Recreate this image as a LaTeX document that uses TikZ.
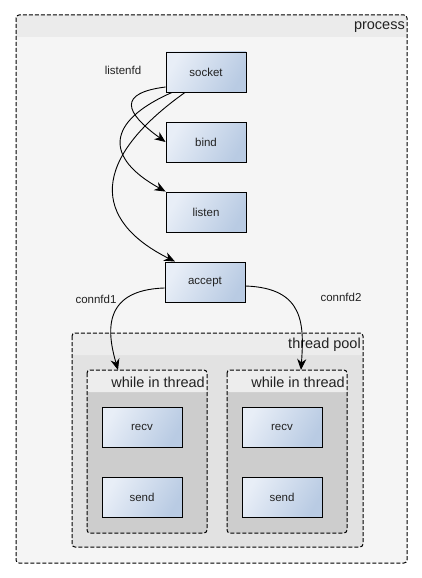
\documentclass[tikz,border=0pt]{standalone}
\usepackage{fontspec}
\setmainfont{Liberation Sans}
\usetikzlibrary{arrows.meta}
\definecolor{procbody}{HTML}{F5F5F5}
\definecolor{prochead}{HTML}{EBEBEB}
\definecolor{poolbody}{HTML}{E2E2E2}
\definecolor{poolhead}{HTML}{ECECEC}
\definecolor{whilebody}{HTML}{CDCDCD}
\definecolor{whilehead}{HTML}{EDEDED}
\definecolor{nodel}{HTML}{E8EEF7}
\definecolor{noder}{HTML}{B9CBE3}
\definecolor{txt}{HTML}{222222}
\tikzset{
  fnbox/.style={draw=black, line width=0.9pt, left color=nodel, right color=noder, shading angle=60,
    minimum width=80pt, minimum height=40pt, inner sep=0pt, text=txt,
    font=\fontsize{11.5}{13}\selectfont},
  grouptitle/.style={font=\fontsize{14.5}{17}\selectfont, text=txt, inner sep=0pt, anchor=east},
  smalllabel/.style={font=\fontsize{11.5}{13}\selectfont, text=txt, inner sep=0pt},
  groupborder/.style={draw=black, line width=1pt, dash pattern=on 4pt off 2pt, rounded corners=3pt},
  conn/.style={draw=black, line width=0.9pt, -{Stealth[length=11pt,width=9pt,inset=3.5pt]}}
}
\begin{document}
\begin{tikzpicture}[x=1pt,y=-1pt]
\useasboundingbox (0,0) rectangle (422,578);
% process container
\fill[procbody, rounded corners=3pt] (16,15) rectangle (407,563);
\fill[prochead, rounded corners=3pt] (16,15) rectangle (407,37);
\fill[prochead] (16,30) rectangle (407,37);
\draw[groupborder] (16,15) rectangle (407,563);
\node[grouptitle] (proctitle) at (405,27) {process};
% thread pool
\fill[poolbody, rounded corners=3pt] (72,333) rectangle (363,547);
\fill[poolhead, rounded corners=3pt] (72,333) rectangle (363,355);
\fill[poolhead] (72,348) rectangle (363,355);
\draw[groupborder] (72,333) rectangle (363,547);
\node[grouptitle] (pooltitle) at (361,345) {thread pool};
% while in thread 1
\fill[whilebody, rounded corners=3pt] (87,370) rectangle (207,533);
\fill[whilehead, rounded corners=3pt] (87,370) rectangle (207,392);
\fill[whilehead] (87,385) rectangle (207,392);
\draw[groupborder] (87,370) rectangle (207,533);
\node[grouptitle] (w1title) at (205,382) {while in thread};
% while in thread 2
\fill[whilebody, rounded corners=3pt] (227,370) rectangle (347,533);
\fill[whilehead, rounded corners=3pt] (227,370) rectangle (347,392);
\fill[whilehead] (227,385) rectangle (347,392);
\draw[groupborder] (227,370) rectangle (347,533);
\node[grouptitle] (w2title) at (345,382) {while in thread};
% nodes
\node[fnbox] (socket) at (206,72) {socket};
\node[fnbox] (bind) at (206,142) {bind};
\node[fnbox] (listen) at (206,212) {listen};
\node[fnbox] (accept) at (205,282) {accept};
\node[fnbox] (recv1) at (142,427) {recv};
\node[fnbox] (send1) at (142,497) {send};
\node[fnbox] (recv2) at (282,427) {recv};
\node[fnbox] (send2) at (282,497) {send};
% connection targets on group borders
\coordinate (w1top) at (118,370);
\coordinate (w2top) at (301,370);
% labels
\node[smalllabel] (lfd) at (123,70) {listenfd};
\node[smalllabel] (c1) at (96,299) {connfd1};
\node[smalllabel] (c2) at (341,297) {connfd2};
% connectors
\draw[conn] ([yshift=-15pt]socket.west) .. controls (118,93) and (124,112) .. (bind.west);
\draw[conn] ([xshift=-34pt]socket.south) .. controls (105,122) and (105,158) .. (listen.north west);
\draw[conn] ([xshift=-21pt]socket.south) .. controls (90,160) and (92,220) .. ([xshift=-30pt]accept.north);
\draw[conn] ([yshift=-6pt]accept.west) .. controls (100,290) and (108,335) .. (w1top);
\draw[conn] ([yshift=-4pt]accept.east) .. controls (305,288) and (304,325) .. (w2top);
\end{tikzpicture}
\end{document}
